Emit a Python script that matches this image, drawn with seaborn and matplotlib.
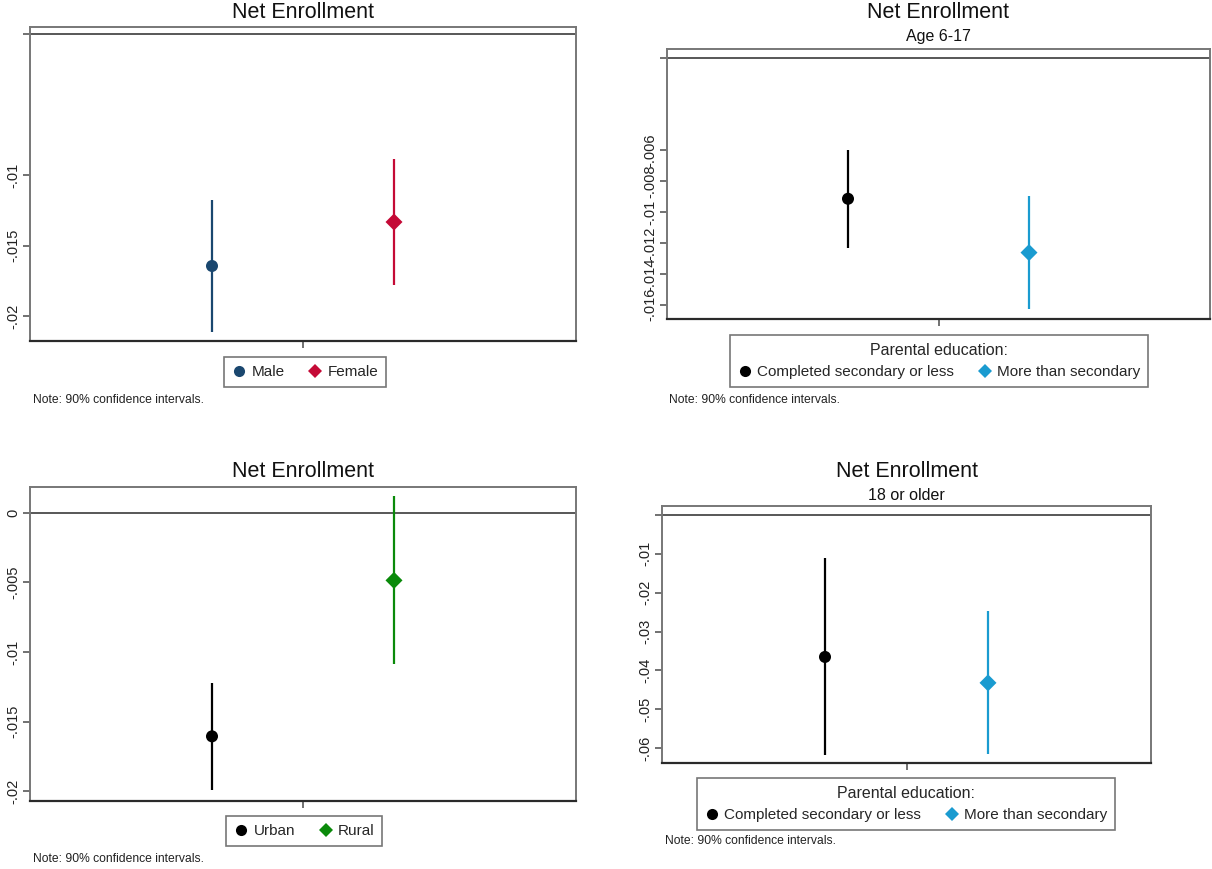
import matplotlib
matplotlib.use("Agg")
import matplotlib.pyplot as plt
import seaborn as sns
import pandas as pd
from matplotlib.lines import Line2D

sns.set_theme(style="white")
plt.rcParams['font.family'] = ['Liberation Sans', 'DejaVu Sans']

# ---------------- data ----------------
gender_groups = ["Male", "Female"]
gender_est = [-0.01645, -0.01333]
gender_lo = [-0.02113, -0.01780]
gender_hi = [-0.01177, -0.00887]

area_groups = ["Urban", "Rural"]
area_est = [-0.01605, -0.00486]
area_lo = [-0.01987, -0.01083]
area_hi = [-0.01222, 0.00117]

edu_groups = ["Completed secondary or less", "More than secondary"]
young_est = [-0.00913, -0.01262]
young_lo = [-0.01230, -0.01629]
young_hi = [-0.00598, -0.00896]

old_est = [-0.03654, -0.04320]
old_lo = [-0.06167, -0.06150]
old_hi = [-0.01123, -0.02474]

gender_ticks = [0, -0.01, -0.015, -0.02]
gender_ticklabels = ["", "-.01", "-.015", "-.02"]
area_ticks = [0, -0.005, -0.01, -0.015, -0.02]
area_ticklabels = ["0", "-.005", "-.01", "-.015", "-.02"]
young_ticks = [0, -0.006, -0.008, -0.01, -0.012, -0.014, -0.016]
young_ticklabels = ["", "-.006", "-.008", "-.01", "-.012", "-.014", "-.016"]
old_ticks = [0, -0.01, -0.02, -0.03, -0.04, -0.05, -0.06]
old_ticklabels = ["", "-.01", "-.02", "-.03", "-.04", "-.05", "-.06"]

title_text = "Net Enrollment"
note_text = "Note: 90% confidence intervals."
legend_title = "Parental education:"

W, H = 1212, 869
fig = plt.figure(figsize=(W / 100, H / 100), dpi=100)


def fx(px):
    return px / W


def fy(py):
    return 1 - py / H


panels = [
    dict(groups=gender_groups, est=gender_est, lo=gender_lo, hi=gender_hi,
         colors=["#1a476f", "#c40a36"], ticks=gender_ticks, labels=gender_ticklabels,
         ylim=(-0.02177, 0.0005), box=(30, 576, 27, 341), title_y=13, sub=None,
         leg=(305, 372), leg_title=None, note=(33, 400)),
    dict(groups=edu_groups, est=young_est, lo=young_lo, hi=young_hi,
         colors=["#000000", "#1a9bd0"], ticks=young_ticks, labels=young_ticklabels,
         ylim=(-0.016925, 0.00058), box=(667, 1210, 49, 319), title_y=13, sub=("Age 6-17", 37),
         leg=(939, 361), leg_title=legend_title, note=(669, 400)),
    dict(groups=area_groups, est=area_est, lo=area_lo, hi=area_hi,
         colors=["#000000", "#0a8a0a"], ticks=area_ticks, labels=area_ticklabels,
         ylim=(-0.02069, 0.00184), box=(30, 576, 487, 801), title_y=472, sub=None,
         leg=(304, 831), leg_title=None, note=(33, 859)),
    dict(groups=edu_groups, est=old_est, lo=old_lo, hi=old_hi,
         colors=["#000000", "#1a9bd0"], ticks=old_ticks, labels=old_ticklabels,
         ylim=(-0.0638, 0.00226), box=(662, 1151, 506, 763), title_y=472, sub=("18 or older", 495),
         leg=(906, 804), leg_title=legend_title, note=(665, 841)),
]

for p in panels:
    l, r, t, b = p["box"]
    ax = fig.add_axes([fx(l), fy(b), fx(r - l), (b - t) / H])
    df = pd.DataFrame({"group": p["groups"], "pos": [1, 2],
                       "est": p["est"], "lo": p["lo"], "hi": p["hi"]})
    pal = dict(zip(p["groups"], p["colors"]))
    mk = dict(zip(p["groups"], ["o", "D"]))
    ax.axhline(0, color="#4a4a4a", lw=1.3, zorder=1)
    ax.vlines(df["pos"], df["lo"], df["hi"], colors=p["colors"], lw=1.6, zorder=2)
    sns.scatterplot(data=df, x="pos", y="est", hue="group", style="group",
                    palette=pal, markers=mk, s=75, linewidth=0, legend=False,
                    ax=ax, zorder=3)
    ax.set_xlim(0, 3)
    ax.set_ylim(*p["ylim"])
    ax.set_xticks([1.5])
    ax.set_xticklabels([""])
    ax.set_yticks(p["ticks"])
    ax.set_yticklabels(p["labels"], rotation=90, va="center", fontsize=10.5, color="#222222")
    ax.set_xlabel("")
    ax.set_ylabel("")
    ax.tick_params(axis="both", direction="out", length=5, width=1.1, color="#4a4a4a",
                   left=True, bottom=True, pad=2)
    for name, sp in ax.spines.items():
        sp.set_visible(True)
        sp.set_color("#777777")
        sp.set_linewidth(1.4)
    ax.spines["bottom"].set_color("#2a2a2a")
    ax.spines["bottom"].set_linewidth(1.6)

    cx = (l + r) / 2
    fig.text(fx(cx), fy(p["title_y"]), title_text, ha="center", va="center",
             fontsize=15.5, color="#111111")
    if p["sub"]:
        fig.text(fx(cx), fy(p["sub"][1]), p["sub"][0], ha="center", va="center",
                 fontsize=11.5, color="#111111")

    handles = [Line2D([0], [0], marker=m, linestyle="", color=c, markersize=8 if m == "o" else 7,
                      markeredgewidth=0)
               for m, c in zip(["o", "D"], p["colors"])]
    leg = fig.legend(handles, p["groups"], loc="center",
                     bbox_to_anchor=(fx(p["leg"][0]), fy(p["leg"][1])),
                     ncol=2, fontsize=11, title=p["leg_title"], title_fontsize=11.5,
                     frameon=True, fancybox=False, edgecolor="#555555",
                     handletextpad=0.3, columnspacing=1.5, handlelength=1.0,
                     borderpad=0.5, labelspacing=0.45)
    leg.get_frame().set_linewidth(1.2)
    fig.text(fx(p["note"][0]), fy(p["note"][1]), note_text, ha="left", va="center",
             fontsize=8.7, color="#222222")

fig.savefig("out.png", dpi=100, facecolor="white")
